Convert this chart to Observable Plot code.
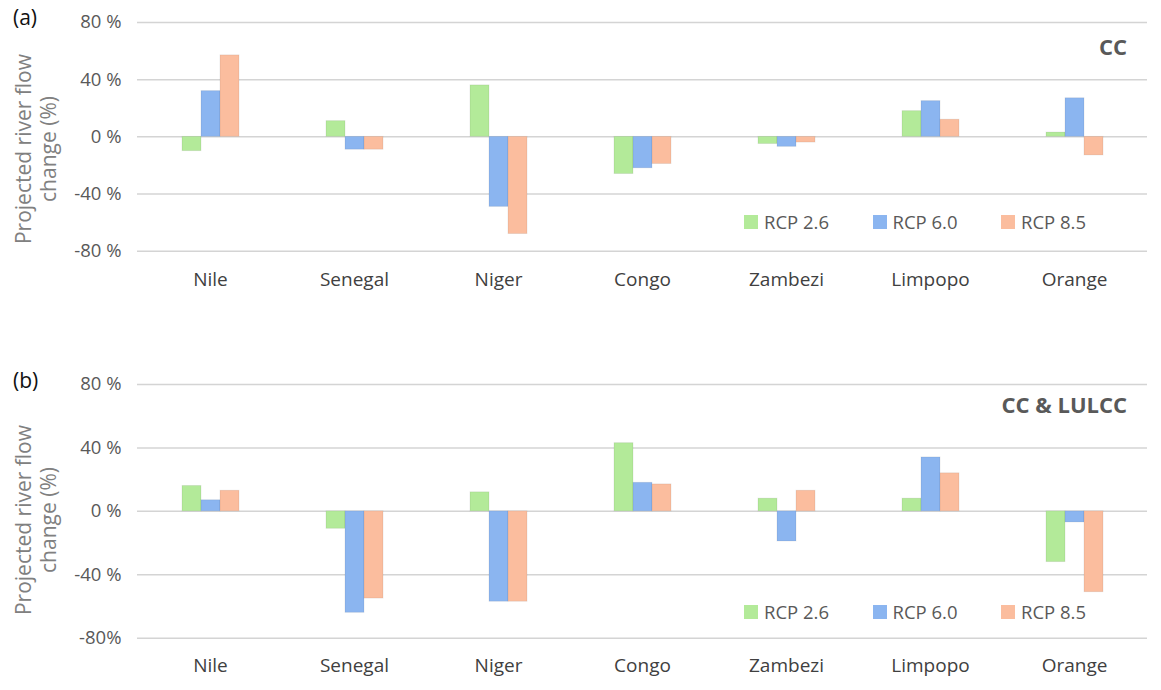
<!DOCTYPE html>
<html>
<head>
<meta charset="utf-8">
<script src="https://cdn.jsdelivr.net/npm/d3@7"></script>
<script src="https://cdn.jsdelivr.net/npm/@observablehq/plot@0.6"></script>
<style>
  html, body { margin: 0; padding: 0; background: #fff; }
  #root { position: relative; width: 1161px; height: 690px; font-family: "Open Sans", sans-serif; }
  .panel { position: absolute; left: 0; width: 1161px; height: 345px; }
  .panel > svg { position: absolute; left: 0; top: 0; }
  .tag { position: absolute; font-size: 21px; color: #111; }
  .scen { position: absolute; font-weight: bold; color: #595959; text-align: right; }
  .ylab { position: absolute; width: 300px; text-align: center; font-size: 21px; line-height: 25px; color: #808080; transform: rotate(-90deg); transform-origin: center center; white-space: nowrap; }
  .leg { position: absolute; }
  .lg-swatches { display: flex !important; margin: 0 !important; min-height: 0 !important; height: 24px; align-items: center; font-family: "Open Sans", sans-serif !important; font-size: 18.5px !important; color: #595959 !important; }
  .lg-swatch { width: 128.5px; margin: 0 !important; display: inline-flex; align-items: center; line-height: 24px; }
  .lg-swatch svg { margin-right: 6px !important; }
</style>
</head>
<body>
<div id="root"></div>
<script>
// ---- data ----
const rivers = ["Nile", "Senegal", "Niger", "Congo", "Zambezi", "Limpopo", "Orange"];
const scenarios = ["RCP 2.6", "RCP 6.0", "RCP 8.5"];
const colors = ["#b3ea99", "#8bb5f0", "#fbbd9e"];

// (a) CC
const cc26 = [-10, 11, 36, -26, -5, 18, 3];
const cc60 = [32, -9, -49, -22, -7, 25, 27];
const cc85 = [57, -9, -68, -19, -4, 12, -13];

// (b) CC & LULCC
const lu26 = [16, -11, 12, 43, 8, 8, -32];
const lu60 = [7, -64, -57, 18, -19, 34, -7];
const lu85 = [13, -55, -57, 17, 13, 24, -51];

const yTicks = [-80, -40, 0, 40, 80];
const yTickLabelsA = ["-80 %", "-40 %", "0 %", "40 %", "80 %"];
const yTickLabelsB = ["-80%", "-40 %", "0 %", "40 %", "80 %"];
const yLabel = "Projected river flow\nchange (%)";

function table(v26, v60, v85) {
  const series = [v26, v60, v85];
  return rivers.flatMap((r, i) => scenarios.map((s, j) => ({river: r, scenario: s, value: series[j][i]})));
}

function common(opts) {
  return {
    width: 1161,
    height: 345,
    marginTop: opts.marginTop,
    marginBottom: opts.marginBottom,
    marginLeft: 137,
    marginRight: 14,
    style: {fontFamily: "Open Sans, sans-serif", fontSize: "18px", color: "#595959", background: "transparent", overflow: "visible"}
  };
}

function gridPanel(tickLabels, opts) {
  return Plot.plot({
    ...common(opts),
    x: {axis: null},
    y: {domain: [-80, 80], axis: null},
    marks: [
      Plot.ruleY(yTicks, {stroke: "#d4d4d4", strokeWidth: 1.5}),
      Plot.axisY(yTicks, {tickSize: 0, tickPadding: 16, label: null, fill: "#595959", fontSize: 18.5,
        tickFormat: d => tickLabels[yTicks.indexOf(d)]})
    ]
  });
}

function barPanel(data, opts) {
  return Plot.plot({
    ...common(opts),
    fx: {domain: rivers, paddingInner: 0.6, paddingOuter: 0.3, label: null, axis: null},
    x: {domain: scenarios, padding: 0, axis: null},
    y: {domain: [-80, 80], axis: null},
    color: {domain: scenarios, range: colors},
    marks: [
      Plot.barY(data, {fx: "river", x: "scenario", y: "value", fill: "scenario", inset: 0, stroke: "#000", strokeOpacity: 0.07, strokeWidth: 1}),
      Plot.axisFx({anchor: "bottom", tickSize: 0, tickPadding: opts.fxPad, label: null, fill: "#404040", fontSize: 19})
    ]
  });
}

const root = document.getElementById("root");

function addPanel(top, data, tickLabels, opts, tag, scen, ylabCenterY, legendTop) {
  const div = document.createElement("div");
  div.className = "panel";
  div.style.top = top + "px";
  div.appendChild(gridPanel(tickLabels, opts));
  const chart = barPanel(data, opts);
  div.appendChild(chart);
  root.appendChild(div);

  const t = document.createElement("div");
  t.className = "tag"; t.textContent = tag;
  t.style.left = "13px"; t.style.top = (top + opts.tagTop) + "px";
  root.appendChild(t);

  const s = document.createElement("div");
  s.className = "scen"; s.textContent = scen;
  s.style.fontSize = opts.scenSize + "px";
  s.style.right = (1161 - 1127) + "px"; s.style.top = (top + opts.scenTop) + "px";
  root.appendChild(s);

  const y = document.createElement("div");
  y.className = "ylab";
  y.innerHTML = yLabel.split("\n").join("<br>");
  y.style.left = (36 - 150) + "px";
  y.style.top = (top + ylabCenterY - 25) + "px";
  root.appendChild(y);

  const lg = chart.legend("color", {className: "lg", swatchSize: 14});
  const l = document.createElement("div");
  l.className = "leg";
  l.style.left = "744px";
  l.style.top = (top + legendTop) + "px";
  l.appendChild(lg);
  root.appendChild(l);
}

addPanel(0, table(cc26, cc60, cc85), yTickLabelsA,
  {marginTop: 22, marginBottom: 94.3, fxPad: 21, tagTop: 3, scenTop: 31, scenSize: 22},
  "(a)", "CC", 149, 210);

addPanel(345, table(lu26, lu60, lu85), yTickLabelsB,
  {marginTop: 39, marginBottom: 52.3, fxPad: 20, tagTop: 21, scenTop: 44, scenSize: 22},
  "(b)", "CC & LULCC", 175, 255);
</script>
</body>
</html>
